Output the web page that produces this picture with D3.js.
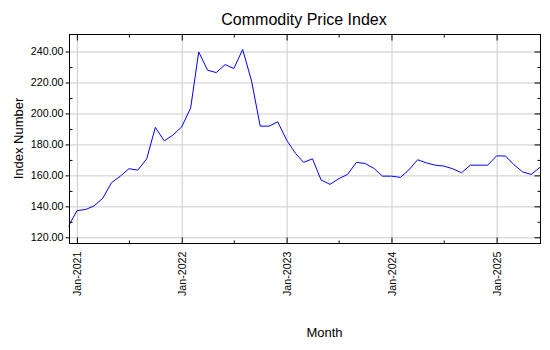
<!DOCTYPE html>
<html>
<head>
<meta charset="utf-8">
<script src="https://cdn.jsdelivr.net/npm/d3@7"></script>
<style>
  html, body { margin: 0; padding: 0; background: #fff; }
  svg { display: block; font-family: "Liberation Sans", Arial, sans-serif; }
  .axis path { display: none; }
  .axis line { stroke: #000; }
  .grid line { stroke: #cccccc; }
  .grid path { display: none; }
</style>
</head>
<body>
<svg id="chart" width="550" height="350"></svg>
<script>
// Monthly index readings, Dec 2020 through Jun 2025
const startMonth = "2020-12";
const indexValues = [
  126.5,
  137.2, 138.0, 140.2, 145.2, 155.2, 159.5, 164.3, 163.4, 170.7, 191.0, 182.3, 186.0,
  191.4, 203.6, 239.7, 227.9, 226.4, 231.6, 229.0, 241.3, 221.0, 191.8, 191.8, 194.6,
  182.8, 174.2, 168.4, 170.7, 157.0, 154.2, 157.8, 160.6, 168.4, 167.7, 164.5, 159.5,
  159.5, 158.7, 163.4, 170.1, 168.1, 166.6, 166.0, 164.3, 161.7, 166.6, 166.6, 166.6,
  172.6, 172.5, 167.1, 162.3, 160.6, 165.2
];
const yMajorTicks = [120, 140, 160, 180, 200, 220, 240];
const yMinorTicks = [130, 150, 170, 190, 210, 230];
const xMajorTicks = ["2021-01", "2022-01", "2023-01", "2024-01", "2025-01"];
const xMinorTicks = ["2021-07", "2022-07", "2023-07", "2024-07", "2025-07"];

const parseMonth = d3.timeParse("%Y-%m");
const fmtMonth = d3.timeFormat("%b-%Y");
const start = parseMonth(startMonth);
const data = indexValues.map((v, i) => ({ date: d3.timeMonth.offset(start, i), value: v }));

const svg = d3.select("#chart");
const plotL = 69.5, plotR = 540.5, plotT = 34.5, plotB = 243.5;

const x = d3.scaleTime()
  .domain(d3.extent(data, d => d.date))
  .range([68, 540]);
const y = d3.scaleLinear()
  .domain([116, 251])
  .range([plotB, plotT]);

const majX = xMajorTicks.map(parseMonth);
const minX = xMinorTicks.map(parseMonth).filter(d => d <= x.domain()[1]);

// grid
svg.append("g").attr("class", "grid")
  .attr("transform", `translate(${plotL},0)`)
  .call(d3.axisLeft(y).tickValues(yMajorTicks).tickSize(-(plotR - plotL)).tickFormat(""));
svg.append("g").attr("class", "grid")
  .attr("transform", `translate(0,${plotB})`)
  .call(d3.axisBottom(x).tickValues(majX).tickSize(-(plotB - plotT)).tickFormat(""));

// data line
svg.append("clipPath").attr("id", "plotclip")
  .append("rect").attr("x", plotL - 1).attr("y", plotT).attr("width", plotR - plotL + 1).attr("height", plotB - plotT);
svg.append("path")
  .datum(data)
  .attr("clip-path", "url(#plotclip)")
  .attr("fill", "none")
  .attr("stroke", "#0000ff")
  .attr("stroke-width", 1)
  .attr("d", d3.line().x(d => x(d.date)).y(d => y(d.value)));

// frame
svg.append("rect")
  .attr("x", plotL).attr("y", plotT)
  .attr("width", plotR - plotL).attr("height", plotB - plotT)
  .attr("fill", "none").attr("stroke", "#000");

// left axis: outward majors with labels, inward minors
const yLeft = svg.append("g").attr("class", "axis")
  .attr("transform", `translate(${plotL},0)`)
  .call(d3.axisLeft(y).tickValues(yMajorTicks).tickSize(4).tickPadding(2).tickFormat(d3.format(".2f")));
yLeft.selectAll("text").attr("font-size", "10.7px").attr("fill", "#000").attr("font-family", "Liberation Sans, Arial, sans-serif");
svg.append("g").attr("class", "axis")
  .attr("transform", `translate(${plotL},0)`)
  .call(d3.axisRight(y).tickValues(yMinorTicks).tickSize(3).tickFormat(""));

// right axis: inward ticks
svg.append("g").attr("class", "axis")
  .attr("transform", `translate(${plotR},0)`)
  .call(d3.axisLeft(y).tickValues(yMajorTicks).tickSize(6).tickFormat(""));
svg.append("g").attr("class", "axis")
  .attr("transform", `translate(${plotR},0)`)
  .call(d3.axisLeft(y).tickValues(yMinorTicks).tickSize(3).tickFormat(""));

// top axis: inward ticks
svg.append("g").attr("class", "axis")
  .attr("transform", `translate(0,${plotT})`)
  .call(d3.axisBottom(x).tickValues(majX).tickSize(6).tickFormat(""));
svg.append("g").attr("class", "axis")
  .attr("transform", `translate(0,${plotT})`)
  .call(d3.axisBottom(x).tickValues(minX).tickSize(3).tickFormat(""));

// bottom axis: inward ticks, rotated labels
svg.append("g").attr("class", "axis")
  .attr("transform", `translate(0,${plotB})`)
  .call(d3.axisTop(x).tickValues(majX).tickSize(6).tickFormat(""));
svg.append("g").attr("class", "axis")
  .attr("transform", `translate(0,${plotB})`)
  .call(d3.axisTop(x).tickValues(minX).tickSize(3).tickFormat(""));
const xLabels = svg.append("g").attr("class", "axis")
  .attr("transform", `translate(0,${plotB})`)
  .call(d3.axisBottom(x).tickValues(majX).tickSize(0).tickFormat(fmtMonth));
xLabels.selectAll("line").remove();
xLabels.selectAll("text")
  .attr("font-size", "10.7px").attr("fill", "#000")
  .attr("font-family", "Liberation Sans, Arial, sans-serif")
  .attr("transform", "rotate(-90)")
  .attr("x", -8).attr("y", 0).attr("dy", "0.35em")
  .attr("text-anchor", "end");

// titles
svg.append("text")
  .attr("x", 304).attr("y", 25)
  .attr("text-anchor", "middle")
  .attr("font-size", "16px")
  .text("Commodity Price Index");
svg.append("text")
  .attr("transform", `translate(22.5,138.5) rotate(-90)`)
  .attr("text-anchor", "middle")
  .attr("font-size", "13px")
  .text("Index Number");
svg.append("text")
  .attr("x", 324.5).attr("y", 336.5)
  .attr("text-anchor", "middle")
  .attr("font-size", "13px")
  .text("Month");
</script>
</body>
</html>
